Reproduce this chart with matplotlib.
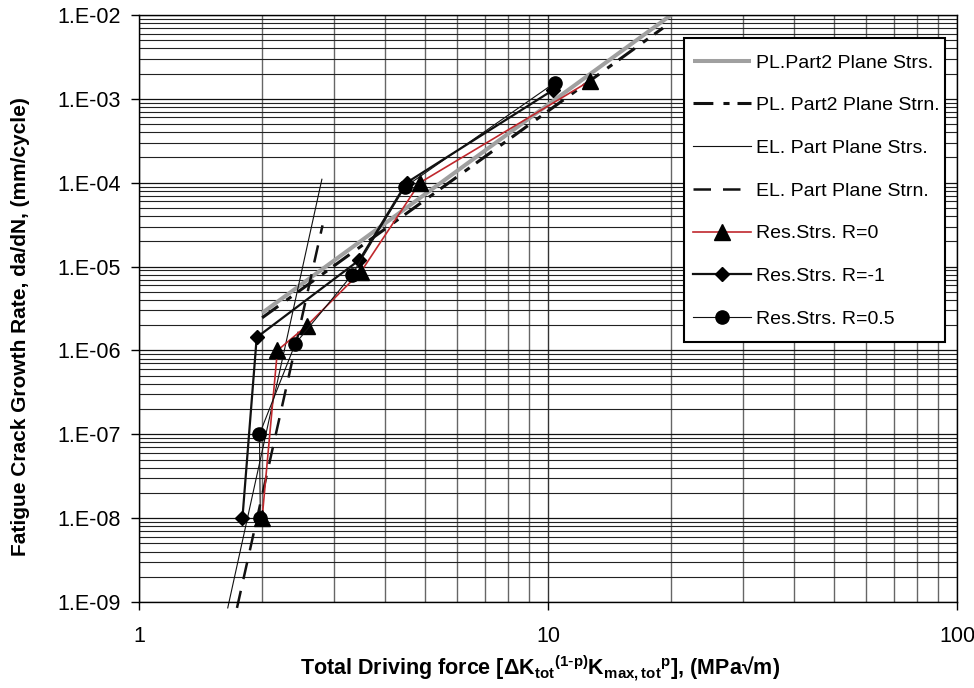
import matplotlib
matplotlib.use("Agg")
import matplotlib.pyplot as plt
from matplotlib import font_manager as fm
from matplotlib.patches import Rectangle
import numpy as np

# ---------------- data ----------------
# Model lines (endpoints)
pl_strs_x = [2.0, 20.0]
pl_strs_y = [2.8e-6, 1.0e-2]
pl_strn_x = [2.0, 19.1]
pl_strn_y = [2.45e-6, 7.0e-3]
el_strs_x = [1.648, 2.80]
el_strs_y = [8.5e-10, 1.1e-4]
el_strn_x = [1.736, 2.81]
el_strn_y = [8.5e-10, 3.1e-5]

# Residual stress series
r0_x = [2.0, 2.18, 2.57, 3.49, 4.86, 12.7]
r0_y = [1.0e-8, 1.0e-6, 1.96e-6, 8.7e-6, 1.0e-4, 1.65e-3]
rm1_x = [1.79, 1.94, 3.46, 4.51, 10.3]
rm1_y = [1.0e-8, 1.43e-6, 1.2e-5, 1.0e-4, 1.28e-3]
r05_x = [1.98, 1.97, 2.41, 3.32, 4.47, 10.4]
r05_y = [1.0e-8, 1.0e-7, 1.2e-6, 8.0e-6, 8.9e-5, 1.56e-3]

labels = ["PL.Part2 Plane Strs.", "PL. Part2 Plane Strn.", "EL. Part Plane Strs.",
          "EL. Part Plane Strn.", "Res.Strs. R=0", "Res.Strs. R=-1", "Res.Strs. R=0.5"]
ytick_vals = [1e-9, 1e-8, 1e-7, 1e-6, 1e-5, 1e-4, 1e-3, 1e-2]
ytick_labels = ["1.E-09", "1.E-08", "1.E-07", "1.E-06", "1.E-05", "1.E-04", "1.E-03", "1.E-02"]
xtick_vals = [1, 10, 100]
xtick_labels = ["1", "10", "100"]

# ---------------- fonts ----------------
avail = {f.name for f in fm.fontManager.ttflist}
base = "Liberation Sans" if "Liberation Sans" in avail else "DejaVu Sans"
narrow = "Liberation Sans Narrow" if "Liberation Sans Narrow" in avail else base
plt.rcParams['font.family'] = [base, 'DejaVu Sans']
plt.rcParams['mathtext.default'] = 'regular'

fig = plt.figure(figsize=(9.74, 6.88), dpi=100)
L, R, T, B = 139, 957, 15, 602
ax = fig.add_axes([L/974, 1-B/688, (R-L)/974, (B-T)/688])
ax.set_xscale('log')
ax.set_yscale('log')
ax.set_xlim(1, 100)
ax.set_ylim(1e-9, 1e-2)

def ax_x(px):
    return (px - L) / (R - L)

def ax_y(py):
    return (B - py) / (B - T)

# grid
ax.grid(True, which='major', axis='y', color='#111111', lw=0.9)
ax.grid(True, which='minor', axis='y', color='#222222', lw=0.8)
ax.grid(True, which='major', axis='x', color='#333333', lw=1.0)
ax.grid(True, which='minor', axis='x', color='#666666', lw=1.0)
ax.set_axisbelow(True)
ax.yaxis.set_minor_locator(matplotlib.ticker.LogLocator(base=10, subs=np.arange(2, 10), numticks=20))
ax.xaxis.set_minor_locator(matplotlib.ticker.LogLocator(base=10, subs=np.arange(2, 10), numticks=20))
ax.set_yticks(ytick_vals)
ax.set_yticklabels(ytick_labels)
ax.set_xticks(xtick_vals)
ax.set_xticklabels(xtick_labels)
ax.tick_params(which='minor', length=0)
ax.tick_params(axis='y', which='major', direction='out', length=6, width=1, labelsize=15.5, pad=7, color='black')
ax.tick_params(axis='x', which='major', direction='out', length=6, width=1, labelsize=15.5, pad=11, color='black')
for s in ax.spines.values():
    s.set_linewidth(1.0)
    s.set_color('black')

h = []
h += ax.plot(pl_strs_x, pl_strs_y, color='#a0a0a0', lw=2.9, solid_capstyle='butt', label=labels[0])
l2, = ax.plot(pl_strn_x, pl_strn_y, color='#111111', lw=2.2, label=labels[1])
l2.set_dashes([6.5, 3.3, 2.0, 2.6])
h.append(l2)
h += ax.plot(el_strs_x, el_strs_y, color='#111111', lw=0.8, label=labels[2], clip_on=False)
l4, = ax.plot(el_strn_x, el_strn_y, color='#111111', lw=1.8, label=labels[3], clip_on=False)
l4.set_dashes([7.0, 4.8])
h.append(l4)
h += ax.plot(r0_x, r0_y, color='#c0282d', lw=1.2, marker='^', ms=11, mfc='black', mec='black', label=labels[4], zorder=5)
h += ax.plot(rm1_x, rm1_y, color='#111111', lw=1.6, marker='D', ms=7.5, mfc='black', mec='black', label=labels[5], zorder=5)
h += ax.plot(r05_x, r05_y, color='#111111', lw=0.8, marker='o', ms=9.5, mfc='black', mec='black', label=labels[6], zorder=5)

# legend frame drawn as a separate box
box = Rectangle((ax_x(684), ax_y(342)), ax_x(945) - ax_x(684), ax_y(38) - ax_y(342),
                transform=ax.transAxes, facecolor='white', edgecolor='black', lw=1.5, zorder=6)
ax.add_patch(box)
leg = ax.legend(handles=h, loc='upper left', bbox_to_anchor=(ax_x(693), ax_y(54)),
                borderaxespad=0, fontsize=14, frameon=False, numpoints=1,
                handlelength=3.0, handletextpad=0.25, labelspacing=1.29, borderpad=0.0)
leg.set_zorder(7)

ax.set_ylabel("Fatigue Crack Growth Rate, da/dN, (mm/cycle)", fontsize=15, fontweight='bold')
ax.yaxis.set_label_coords(-(L-30)/(R-L), 0.5 - ((98+555)/2 - (T+B)/2)/(B-T))
ax.set_xlabel(r"Total Driving force [$\Delta K_{tot}{}^{(1\text{-}p)}K_{max,tot}{}^{p}$], (MPa√m)",
              fontsize=15.5, fontweight='bold', family=[narrow, 'DejaVu Sans'])
ax.xaxis.set_label_coords(ax_x(540), ax_y(654))

fig.savefig("out.png", dpi=100)
